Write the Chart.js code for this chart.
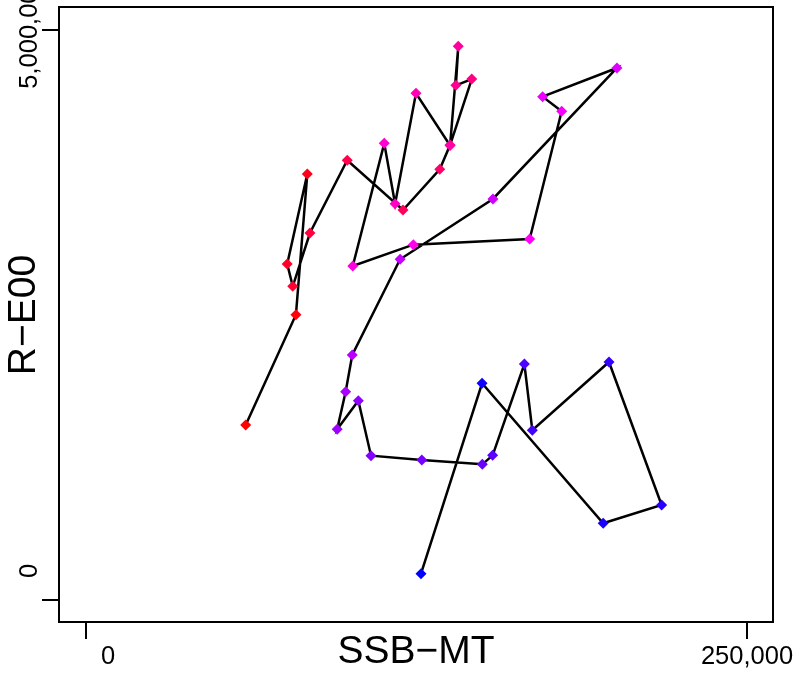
<!DOCTYPE html>
<html>
<head>
<meta charset="utf-8">
<script src="https://cdn.jsdelivr.net/npm/chart.js@4"></script>
<style>
  html, body { margin: 0; padding: 0; background: #fff; }
  #wrap { width: 796px; height: 673px; position: relative; }
</style>
</head>
<body>
<div id="wrap"><canvas id="chart"></canvas></div>
<script>
// spawning stock biomass (x) vs recruitment (y), one point per year in time order
const ssb = [60400, 79400, 83700, 76100, 78200, 84700, 98800, 119900, 133800, 137700,
  145900, 139900, 140800, 137700, 124800, 116900, 112800, 100900, 123800, 167800,
  179900, 172700, 200800, 153900, 118800, 100700, 98200, 95000, 103000, 107800,
  127000, 149900, 153800, 165800, 168800, 197800, 217700, 195600, 149800, 126700];
const rec = [1535000, 2503000, 3737000, 2947000, 2752000, 3219000, 3857000, 3421000, 3778000, 3991000,
  4570000, 4515000, 4857000, 3987000, 4445000, 3476000, 4006000, 2930000, 3117000, 3167000,
  4287000, 4415000, 4667000, 3518000, 2989000, 2149000, 1827000, 1497000, 1748000, 1266000,
  1228000, 1190000, 1269000, 2070000, 1489000, 2088000, 833000, 673000, 1901000, 231000];
const xTicks = [0, 250000];
const yTicks = [0, 5000000];
const xTitle = "SSB\u2212MT";
const yTitle = "R\u2212E00";

const fmt = new Intl.NumberFormat("en-US", { maximumFractionDigits: 0 });
const FONT = "'Liberation Sans', Arial, Helvetica, sans-serif";

// red -> magenta -> blue ramp along the years
function ramp(n) {
  const out = [];
  for (let i = 0; i < n; i++) {
    const t = n > 1 ? i / (n - 1) : 0;
    let r, b;
    if (t <= 0.5) { r = 255; b = Math.round(510 * t); }
    else { r = Math.round(255 * (2 - 2 * t)); b = 255; }
    out.push(`rgb(${r},0,${b})`);
  }
  return out;
}
const colors = ramp(ssb.length);
const points = ssb.map((v, i) => ({ x: v, y: rec[i] }));

const xLabelShift = [22, 0];
const yLabelShift = [-29, 2];

const frame = {
  id: "frame",
  afterDraw(chart) {
    const { ctx, chartArea: a, scales: { x, y } } = chart;
    ctx.save();
    ctx.strokeStyle = "#000";
    ctx.lineWidth = 2;
    ctx.strokeRect(a.left, a.top, a.right - a.left, a.bottom - a.top);

    ctx.beginPath();
    xTicks.forEach(v => {
      const px = Math.round(x.getPixelForValue(v));
      ctx.moveTo(px, a.bottom);
      ctx.lineTo(px, a.bottom + 17);
    });
    yTicks.forEach(v => {
      const py = Math.round(y.getPixelForValue(v));
      ctx.moveTo(a.left, py);
      ctx.lineTo(a.left - 17, py);
    });
    ctx.stroke();

    ctx.fillStyle = "#000";
    ctx.textAlign = "center";
    ctx.textBaseline = "alphabetic";
    ctx.font = `25.5px ${FONT}`;
    xTicks.forEach((v, i) => ctx.fillText(fmt.format(v), x.getPixelForValue(v) + xLabelShift[i], 664));
    yTicks.forEach((v, i) => {
      ctx.save();
      ctx.translate(37, y.getPixelForValue(v) + yLabelShift[i]);
      ctx.rotate(-Math.PI / 2);
      ctx.fillText(fmt.format(v), 0, 0);
      ctx.restore();
    });

    ctx.font = `39px ${FONT}`;
    ctx.fillText(xTitle, 416, 663);
    ctx.save();
    ctx.translate(35, 315);
    ctx.rotate(-Math.PI / 2);
    ctx.fillText(yTitle, 0, 0);
    ctx.restore();
    ctx.restore();
  }
};

new Chart(document.getElementById("chart"), {
  type: "scatter",
  data: {
    datasets: [{
      data: points,
      showLine: true,
      borderColor: "#000",
      borderWidth: 2.5,
      tension: 0,
      pointStyle: "rectRot",
      pointRadius: 5.5,
      pointBorderWidth: 0,
      pointBackgroundColor: colors,
      pointBorderColor: colors,
      pointHoverRadius: 5.5
    }]
  },
  options: {
    responsive: true,
    maintainAspectRatio: false,
    animation: false,
    layout: { padding: { left: 59, top: 7, right: 23, bottom: 51 } },
    plugins: { legend: { display: false }, tooltip: { enabled: false } },
    scales: {
      x: { type: "linear", min: -10212, max: 259830, display: false },
      y: { type: "linear", min: -192982, max: 5201754, display: false }
    }
  },
  plugins: [frame]
});
</script>
</body>
</html>
